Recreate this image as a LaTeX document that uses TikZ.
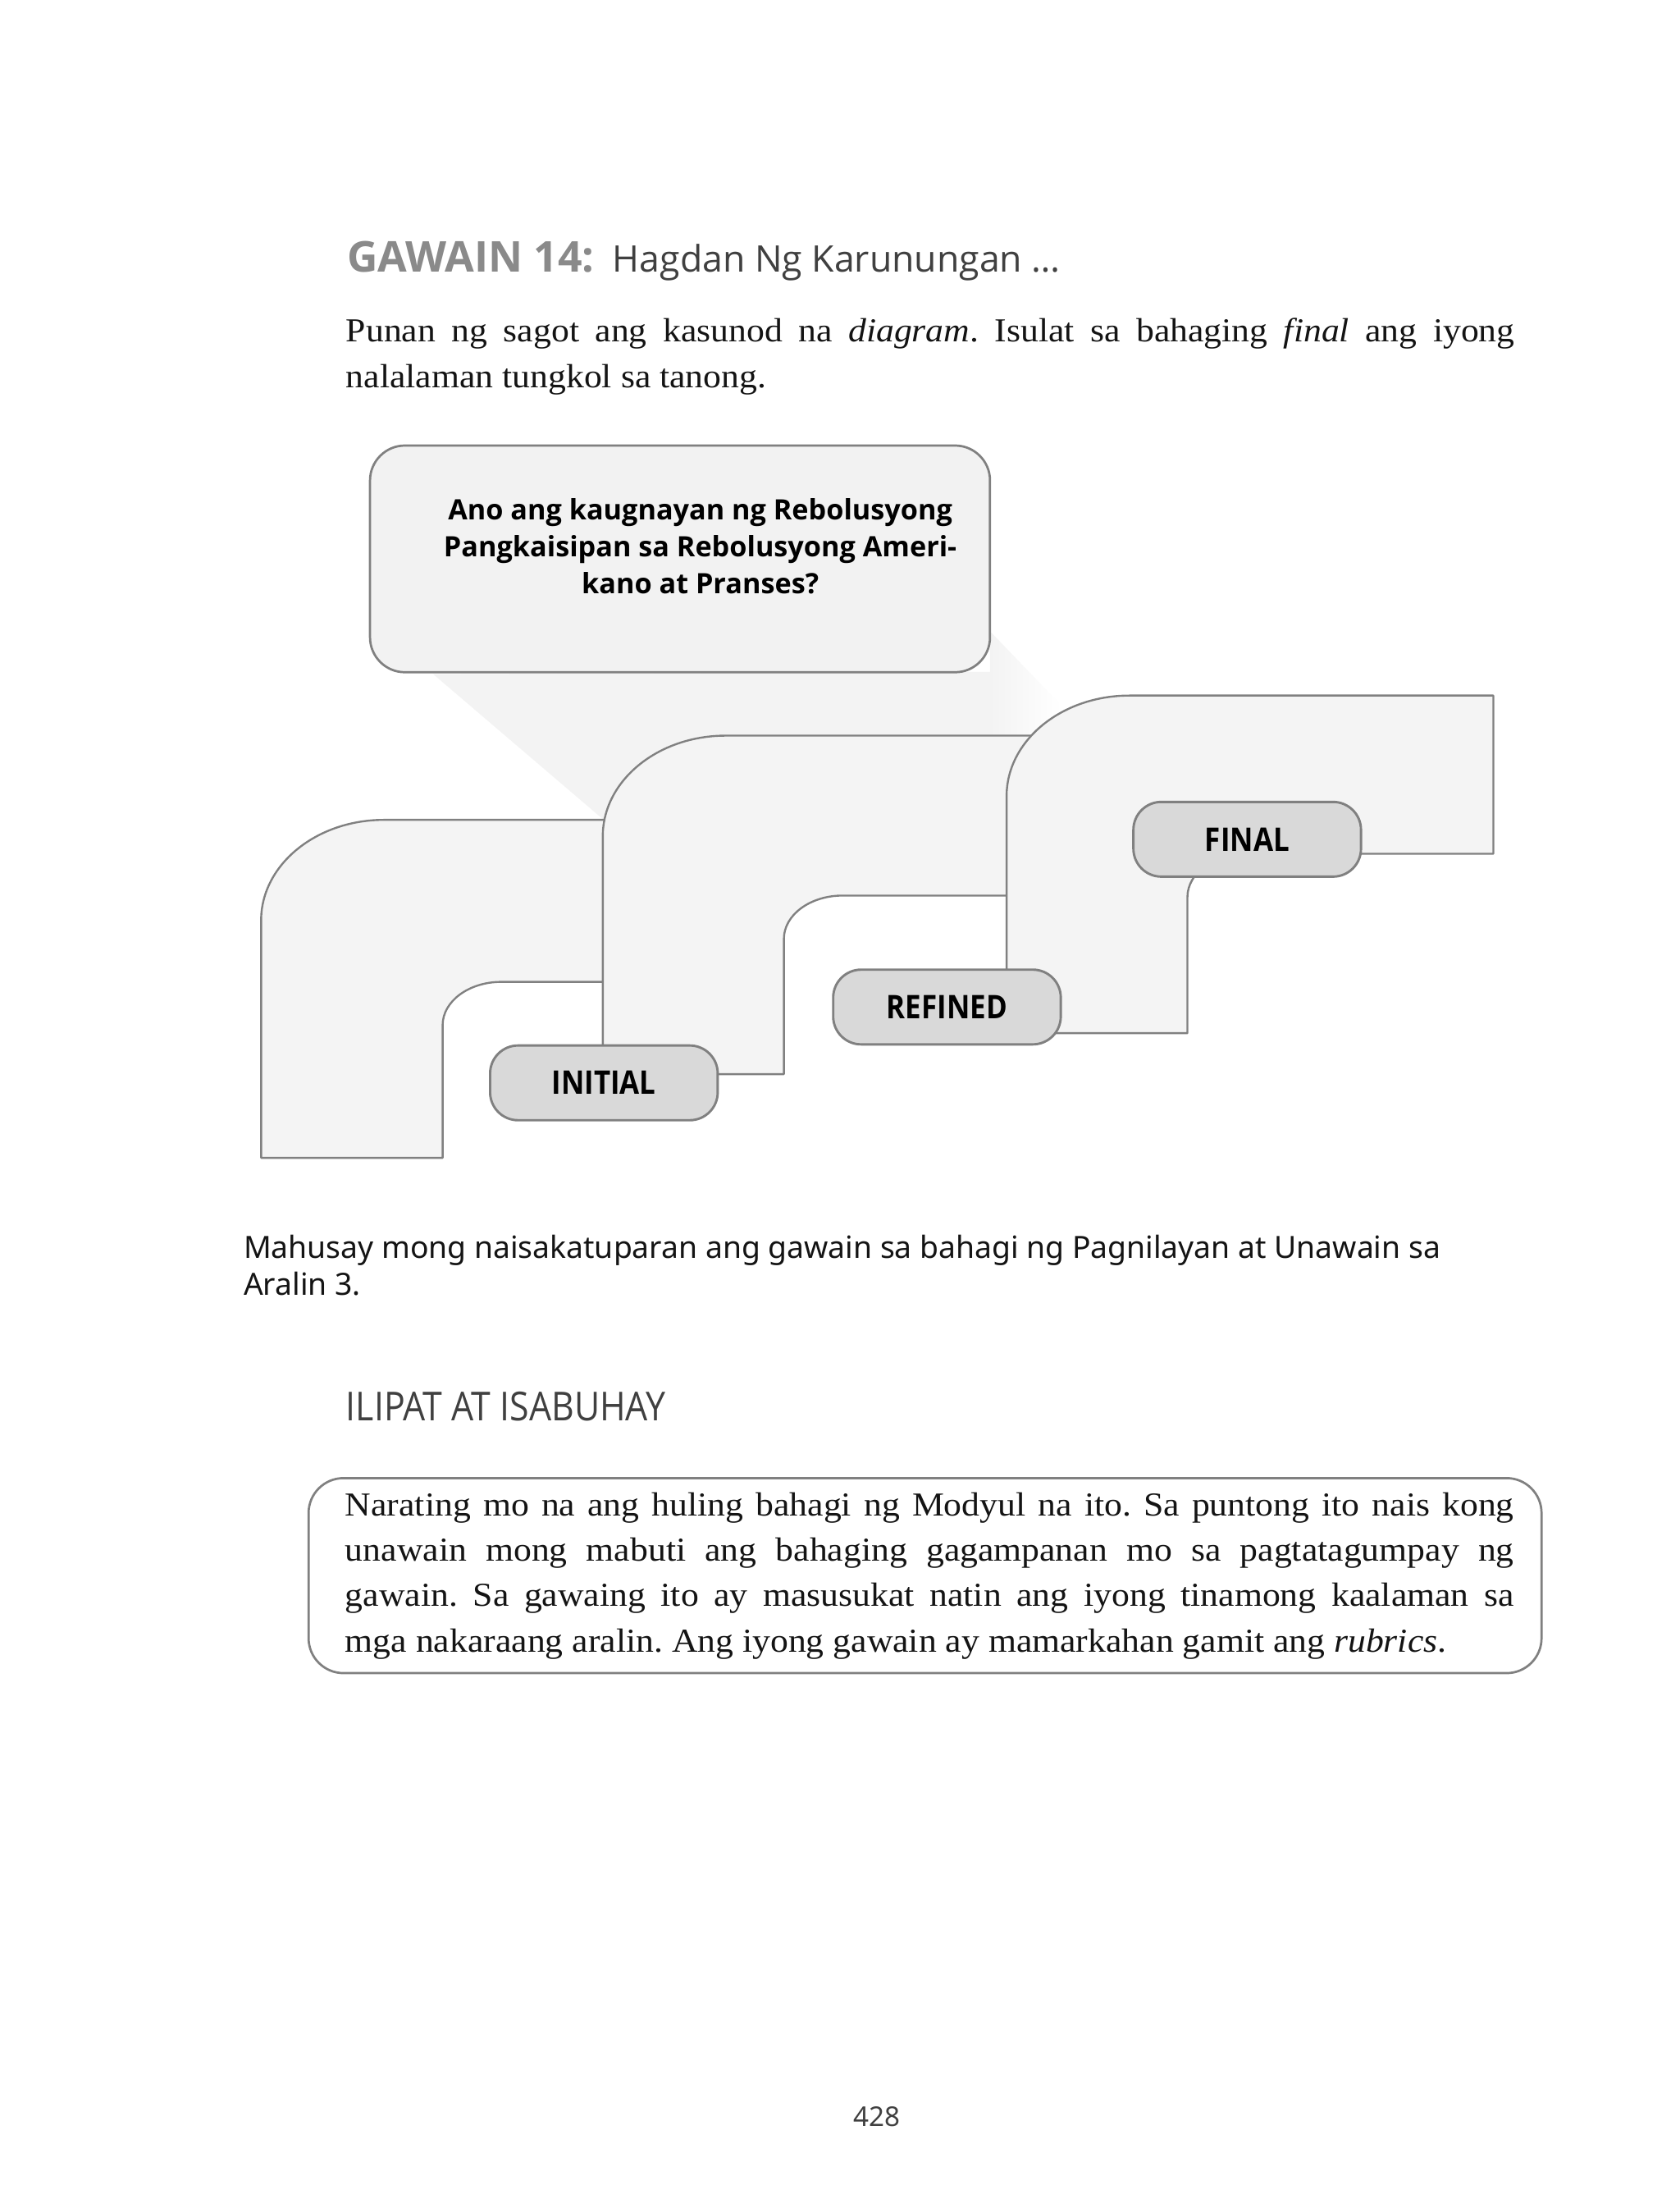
\documentclass[tikz,border=0pt]{standalone}
\usepackage{fontspec}
\setmainfont{Liberation Serif}[FakeStretch=1.07]
\newfontfamily\osans{Open Sans}
\newfontfamily\osanscond[FakeStretch=0.88]{Open Sans}
\newfontfamily\nsans{Noto Sans}
\definecolor{stairfill}{HTML}{F4F4F4}
\definecolor{boxfill}{HTML}{F2F2F2}
\definecolor{shadowfill}{HTML}{F3F3F3}
\definecolor{lblfill}{HTML}{D9D9D9}
\definecolor{linegray}{HTML}{808080}
\definecolor{titlegray}{HTML}{8A8A8A}
\definecolor{darkgray}{HTML}{404040}
\definecolor{bodyblack}{HTML}{141414}
\frenchspacing
\newcommand{\serifbody}{\rmfamily\fontsize{24}{32.5}\selectfont\color{bodyblack}}
\newcommand{\lblfont}{\osanscond\bfseries\fontsize{23.3}{28}\selectfont}
\newcommand{\qfont}{\osans\bfseries\fontsize{20.1}{26.6}\selectfont}
\begin{document}
\begin{tikzpicture}[x=1pt,y=-1pt,
  stair/.style={fill=stairfill,draw=linegray,line width=1.4pt,line join=round},
  lbl/.style={draw=linegray,fill=lblfill,line width=1.7pt,rounded corners=20pt,
    minimum width=163pt,minimum height=53.5pt,inner sep=0pt,font=\lblfont},
  txt/.style={inner sep=0pt,anchor=base west},
  qline/.style={inner sep=0pt,anchor=base,font=\qfont}]
\fill[white] (0,0) rectangle (1203,1568);
\useasboundingbox (0,0) rectangle (1203,1568);

% title
\node[txt,font=\osans\bfseries\fontsize{30.4}{36}\selectfont,text=titlegray] (title) at (248.5,194.8) {GAWAIN 14:};
\node[txt,font=\osans\fontsize{26.2}{32}\selectfont,text=darkgray] (subtitle) at (438.6,194.8) {Hagdan Ng Karunungan …};

% intro paragraph
\node[txt,font=\serifbody] (p1) at (247.7,244.8) {\makebox[837pt][s]{Punan ng sagot ang kasunod na \textit{diagram}. Isulat sa bahaging \textit{final} ang iyong}};
\node[txt,font=\serifbody] (p2) at (247.7,277.4) {nalalaman tungkol sa tanong.};

% shadow
\fill[shadowfill] (310.3,482.7) -- (431.7,586.4) -- (709,586) -- (709,481) -- cycle;
\shade[left color=shadowfill,right color=white] (709,452) -- (760,505) -- (740,586) -- (709,586) -- cycle;

% question box
\draw[draw=linegray,fill=boxfill,line width=1.6pt,rounded corners=25pt] (265,319) rectangle (709,481.3);
\node[qline] (q1) at (501.5,372.0) {Ano ang kaugnayan ng Rebolusyong};
\node[qline] (q2) at (501.5,398.5) {Pangkaisipan sa Rebolusyong Ameri-};
\node[qline] (q3) at (501.5,425.3) {kano at Pranses?};

% stairs
\draw[stair] (187,829) -- (187,659) arc[start angle=180,end angle=270,x radius=88,y radius=72]
  -- (540,587) -- (540,703) -- (359,703) arc[start angle=270,end angle=180,x radius=42,y radius=31]
  -- (317,829) -- cycle;
\draw[stair] (431.7,769.1) -- (431.7,598.7) arc[start angle=180,end angle=270,x radius=88,y radius=72]
  -- (780,526.7) -- (780,641.2) -- (603.4,641.2) arc[start angle=270,end angle=180,x radius=42,y radius=31]
  -- (561.4,769.1) -- cycle;
\draw[stair] (720.9,739.7) -- (720.9,570) arc[start angle=180,end angle=270,x radius=88,y radius=72]
  -- (1069.5,498) -- (1069.5,611.3) -- (892.4,611.3) arc[start angle=270,end angle=180,x radius=42,y radius=31]
  -- (850.4,739.7) -- cycle;

% labels
\node[lbl] (initial) at (432.5,775.3) {INITIAL};
\node[lbl] (refined) at (678.2,721.0) {REFINED};
\node[lbl] (final) at (893.2,600.9) {FINAL};

% after diagram text
\node[txt,font=\nsans\fontsize{21.9}{26.4}\selectfont,text=bodyblack] (m1) at (174.3,901.1) {Mahusay mong naisakatuparan ang gawain sa bahagi ng Pagnilayan at Unawain sa};
\node[txt,font=\nsans\fontsize{21.9}{26.4}\selectfont,text=bodyblack] (m2) at (174.3,927.5) {Aralin 3.};

\node[txt,font=\osanscond\fontsize{28.6}{34}\selectfont,text=darkgray] (ilipat) at (247.7,1017.2) {ILIPAT AT ISABUHAY};

% final box
\draw[draw=linegray,line width=1.6pt,rounded corners=25pt] (221,1058.3) rectangle (1104,1197.9);
\node[txt,font=\serifbody] (b1) at (247.1,1085.1) {\makebox[837pt][s]{Narating mo na ang huling bahagi ng Modyul na ito. Sa puntong ito nais kong}};
\node[txt,font=\serifbody] (b2) at (247.1,1117.6) {\makebox[837pt][s]{unawain mong mabuti ang bahaging gagampanan mo sa pagtatagumpay ng}};
\node[txt,font=\serifbody] (b3) at (247.1,1150.1) {\makebox[837pt][s]{gawain. Sa gawaing ito ay masusukat natin ang iyong tinamong kaalaman sa}};
\node[txt,font=\serifbody] (b4) at (247.1,1182.6) {mga nakaraang aralin. Ang iyong gawain ay mamarkahan gamit ang \textit{rubrics}.};

% page number
\node[inner sep=0pt,anchor=base,font=\nsans\fontsize{19.5}{24}\selectfont,text=darkgray] (pagenum) at (628,1522.4) {428};
\end{tikzpicture}
\end{document}
